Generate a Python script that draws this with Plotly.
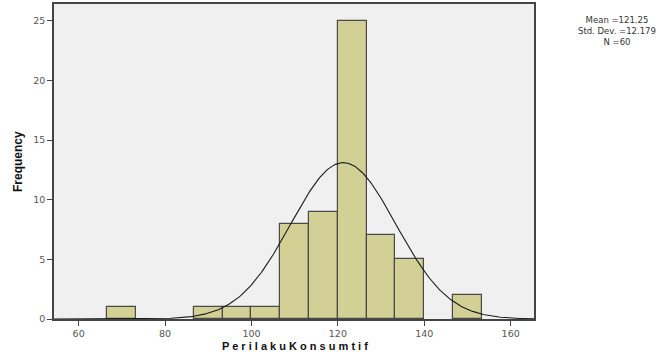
import numpy as np
import plotly.graph_objects as go

bin_starts = [66.667, 86.667, 93.333, 100.0, 106.667, 113.333, 120.0, 126.667, 133.333, 146.667]
counts = [1, 1, 1, 1, 8, 9, 25, 7, 5, 2]
bin_width = 6.6667
mean = 121.25
std = 12.179
n = 60
x_ticks = [60, 80, 100, 120, 140, 160]
y_ticks = [0, 5, 10, 15, 20, 25]
stat_lines = ["Mean =121.25", "Std. Dev. =12.179", "N =60"]

centers = [s + bin_width / 2 for s in bin_starts]

xs = np.linspace(54.3, 165.4, 400)
ys = n * bin_width / (std * np.sqrt(2 * np.pi)) * np.exp(-0.5 * ((xs - mean) / std) ** 2)

fig = go.Figure()
fig.add_trace(go.Bar(x=centers, y=counts, width=bin_width,
                     marker=dict(color="#d3d095", line=dict(color="#4a4a4a", width=1.2)),
                     hoverinfo="skip"))
fig.add_trace(go.Scatter(x=xs, y=ys, mode="lines",
                         line=dict(color="#1a1a1a", width=1.1), hoverinfo="skip"))

fig.update_layout(
    width=668, height=355,
    margin=dict(l=54, r=134, t=4, b=36, autoexpand=False),
    paper_bgcolor="white", plot_bgcolor="#f0f0f0",
    showlegend=False, bargap=0,
    font=dict(family="DejaVu Sans, Liberation Sans, sans-serif", size=9.5, color="#555555"),
)
fig.update_xaxes(range=[54.3, 165.4], tickvals=x_ticks, ticks="outside", ticklen=5,
                 tickcolor="#444", showgrid=False, zeroline=False, automargin=False,
                 showline=True, linecolor="#444", linewidth=1.5, mirror=True)
fig.update_yaxes(range=[0, 26.4], tickvals=y_ticks, ticks="outside", ticklen=5,
                 tickcolor="#444", showgrid=False, zeroline=False, automargin=False,
                 showline=True, linecolor="#444", linewidth=1.5, mirror=True)

pw, ph = 668 - 54 - 134, 355 - 4 - 36
fig.add_annotation(xref="paper", yref="paper", x=(295 - 54) / pw, y=(319 - 346) / ph,
                   xanchor="center", yanchor="middle", showarrow=False,
                   text="<b>P e r i l a k u K o n s u m t i f</b>",
                   font=dict(family="Liberation Sans, Arial, sans-serif", size=11, color="#111"))
fig.add_annotation(xref="paper", yref="paper", x=(18 - 54) / pw, y=(319 - 162) / ph,
                   xanchor="center", yanchor="middle", showarrow=False, textangle=-90,
                   text="<b>Frequency</b>",
                   font=dict(family="Liberation Sans Narrow, Arial Narrow, Liberation Sans", size=12, color="#111"))
fig.add_annotation(xref="paper", yref="paper", x=(617 - 54) / pw, y=(319 - 31) / ph,
                   xanchor="center", yanchor="middle", text="<br>".join(stat_lines),
                   showarrow=False, align="center",
                   font=dict(family="DejaVu Sans, sans-serif", size=8.5, color="#333"))

fig.write_html("out.html", config={"displayModeBar": False},
               post_script="document.body.style.margin='0';")
